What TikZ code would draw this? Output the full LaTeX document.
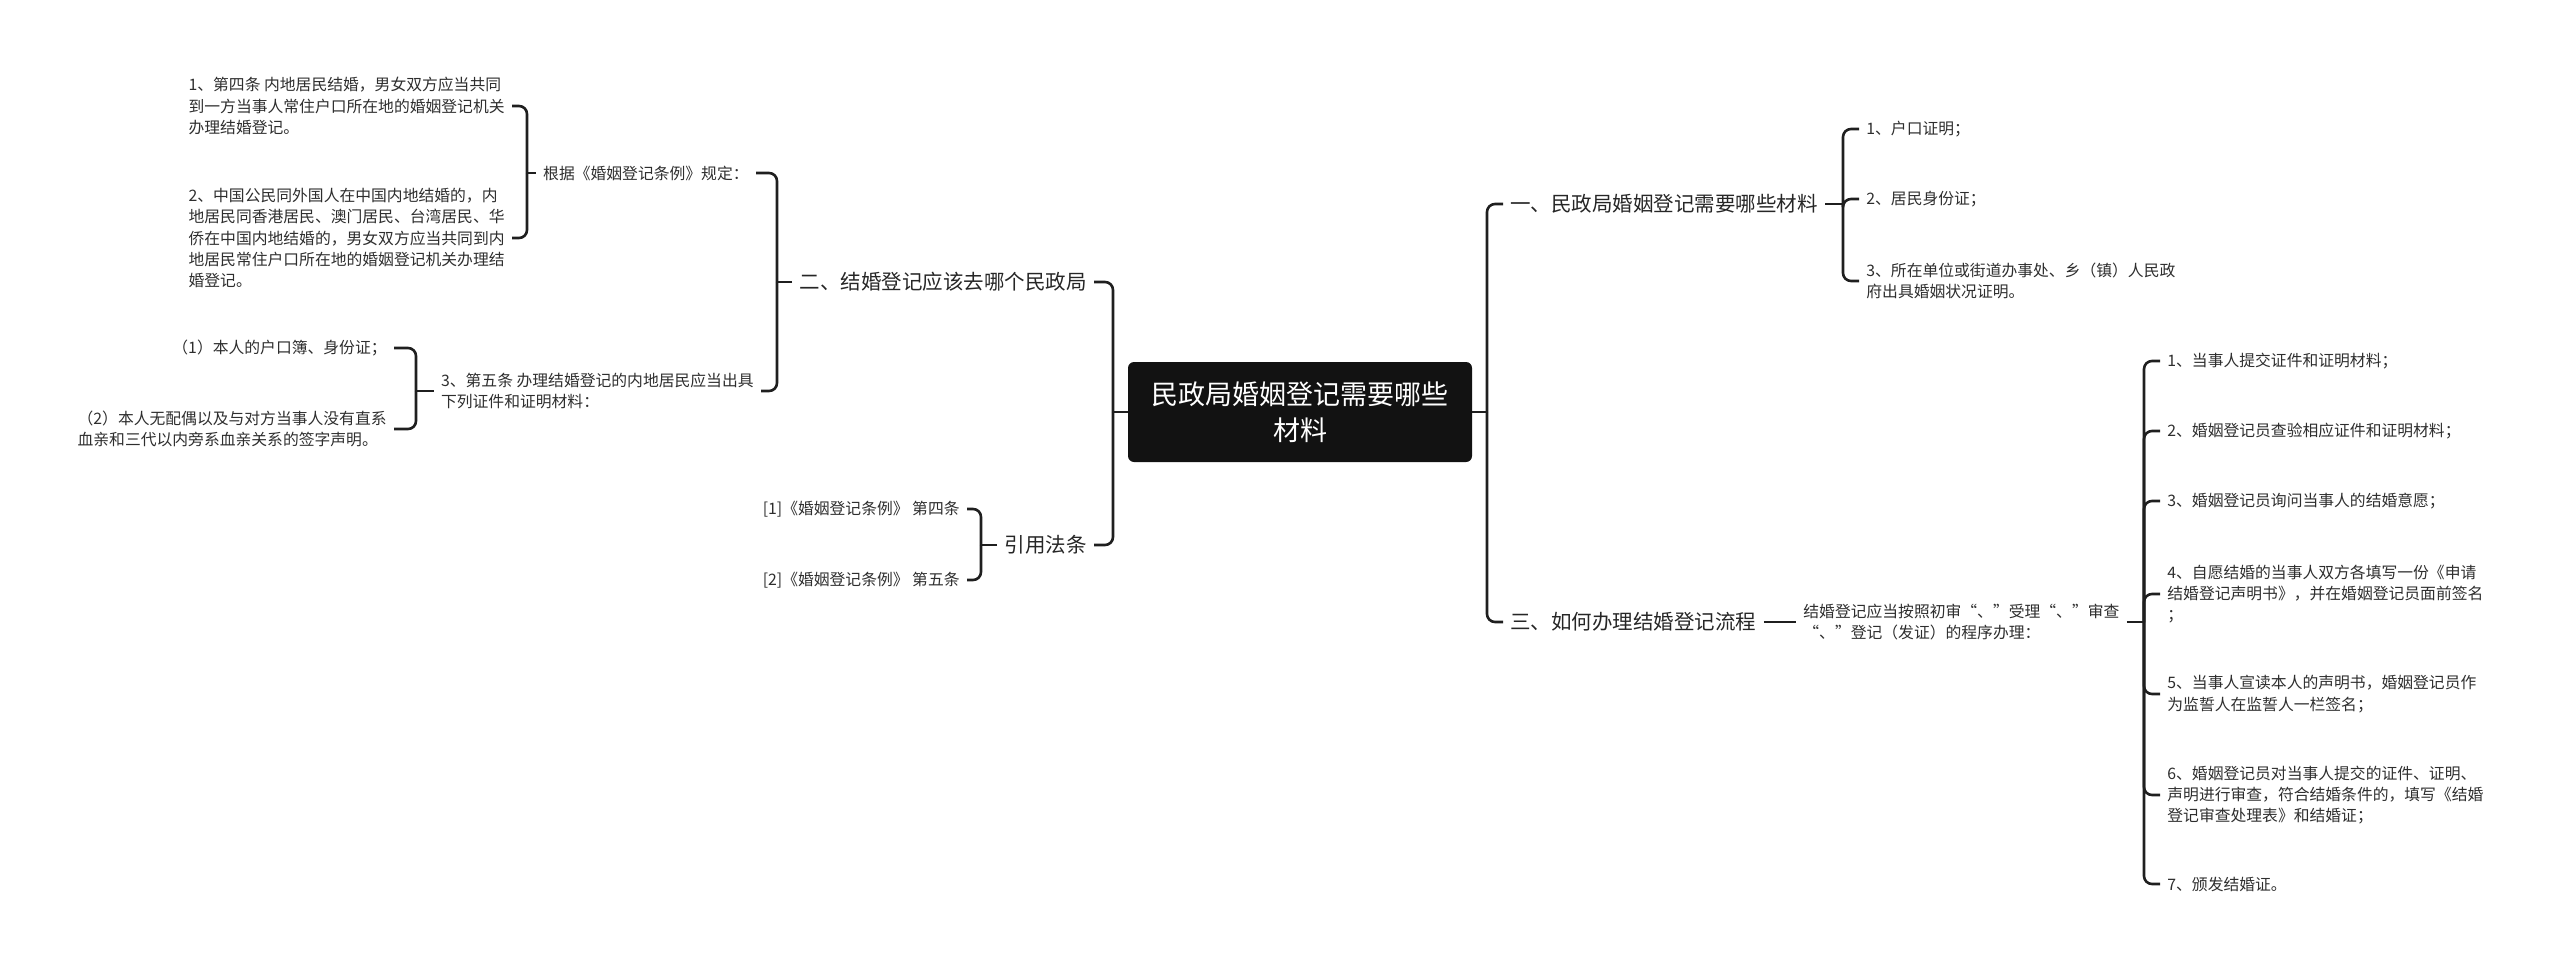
\documentclass[tikz,border=0pt]{standalone}
\usepackage{fontspec}
\setmainfont{Noto Sans CJK SC}

\tikzset{
  link/.style={line width=1.3pt, draw=black!88, rounded corners=4pt},
  leaf/.style={font=\fontsize{7.9}{10.6}\selectfont, text=black!82, inner xsep=3.5pt, inner ysep=0pt, align=left},
  sect/.style={font=\fontsize{10.25}{12}\selectfont, text=black!85, inner xsep=3.5pt, inner ysep=0pt},
  rootbox/.style={fill=black!93, text=white, rounded corners=3pt, minimum width=172pt, minimum height=50pt, align=center, font=\fontsize{13.5}{18}\selectfont}
}

\begin{document}
\begin{tikzpicture}[x=0.5pt, y=-0.5pt]
\useasboundingbox (0,0) rectangle (2560,969);

\node[rootbox] (root) at (1300,412) {民政局婚姻登记需要哪些\\材料};

% right half
\node[sect, anchor=west] (r1) at (1503,204) {一、民政局婚姻登记需要哪些材料};
\node[sect, anchor=west] (r3) at (1503,622) {三、如何办理结婚登记流程};

\node[leaf, anchor=west] (r1a) at (1859,129) {1、户口证明；};
\node[leaf, anchor=west] (r1b) at (1859,199) {2、居民身份证；};
\node[leaf, anchor=west] (r1c) at (1859,281) {3、所在单位或街道办事处、乡（镇）人民政\\府出具婚姻状况证明。};

\node[leaf, anchor=west] (r3m) at (1796,622) {结婚登记应当按照初审“、”受理“、”审查\\“、”登记（发证）的程序办理：};

\node[leaf, anchor=west] (r3a) at (2160,361) {1、当事人提交证件和证明材料；};
\node[leaf, anchor=west] (r3b) at (2160,431) {2、婚姻登记员查验相应证件和证明材料；};
\node[leaf, anchor=west] (r3c) at (2160,501) {3、婚姻登记员询问当事人的结婚意愿；};
\node[leaf, anchor=west] (r3d) at (2160,594) {4、自愿结婚的当事人双方各填写一份《申请\\结婚登记声明书》，并在婚姻登记员面前签名\\；};
\node[leaf, anchor=west] (r3e) at (2160,694) {5、当事人宣读本人的声明书，婚姻登记员作\\为监誓人在监誓人一栏签名；};
\node[leaf, anchor=west] (r3f) at (2160,795) {6、婚姻登记员对当事人提交的证件、证明、\\声明进行审查，符合结婚条件的，填写《结婚\\登记审查处理表》和结婚证；};
\node[leaf, anchor=west] (r3g) at (2160,884) {7、颁发结婚证。};

% left half
\node[sect, anchor=east] (l2) at (1094,282) {二、结婚登记应该去哪个民政局};
\node[sect, anchor=east] (l4) at (1094,545) {引用法条};

\node[leaf, anchor=east] (l2a) at (756,173) {根据《婚姻登记条例》规定：};
\node[leaf, anchor=east] (l2b) at (761,391) {3、第五条 办理结婚登记的内地居民应当出具\\下列证件和证明材料：};

\node[leaf, anchor=east] (l2a1) at (512,106) {1、第四条 内地居民结婚，男女双方应当共同\\到一方当事人常住户口所在地的婚姻登记机关\\办理结婚登记。};
\node[leaf, anchor=east] (l2a2) at (512,238) {2、中国公民同外国人在中国内地结婚的，内\\地居民同香港居民、澳门居民、台湾居民、华\\侨在中国内地结婚的，男女双方应当共同到内\\地居民常住户口所在地的婚姻登记机关办理结\\婚登记。};

\node[leaf, anchor=east] (l2b1) at (394,348) {（1）本人的户口簿、身份证；};
\node[leaf, anchor=east] (l2b2) at (394,429) {（2）本人无配偶以及与对方当事人没有直系\\血亲和三代以内旁系血亲关系的签字声明。};

\node[leaf, anchor=east] (l4a) at (967,509) {[1]《婚姻登记条例》 第四条};
\node[leaf, anchor=east] (l4b) at (967,580) {[2]《婚姻登记条例》 第五条};

% junctions of the brackets
\coordinate (rj) at (1487,412);
\coordinate (r1j) at (1843,204);
\coordinate (r3j) at (2144,622);
\coordinate (lj) at (1113,412);
\coordinate (l2j) at (777,282);
\coordinate (l2aj) at (527,173);
\coordinate (l2bj) at (416,391);
\coordinate (l4j) at (981,545);

\draw[link] (root.east) -- (rj);
\foreach \n in {r1,r3} \draw[link] (rj) |- (\n.west);
\draw[link] (r1.east) -- (r1j);
\foreach \n in {r1a,r1b,r1c} \draw[link] (r1j) |- (\n.west);
\draw[link] (r3.east) -- (r3m.west);
\draw[link] (r3m.east) -- (r3j);
\foreach \n in {r3a,r3b,r3c,r3d,r3e,r3f,r3g} \draw[link] (r3j) |- (\n.west);

\draw[link] (root.west) -- (lj);
\foreach \n in {l2,l4} \draw[link] (lj) |- (\n.east);
\draw[link] (l2.west) -- (l2j);
\foreach \n in {l2a,l2b} \draw[link] (l2j) |- (\n.east);
\draw[link] (l2a.west) -- (l2aj);
\foreach \n in {l2a1,l2a2} \draw[link] (l2aj) |- (\n.east);
\draw[link] (l2b.west) -- (l2bj);
\foreach \n in {l2b1,l2b2} \draw[link] (l2bj) |- (\n.east);
\draw[link] (l4.west) -- (l4j);
\foreach \n in {l4a,l4b} \draw[link] (l4j) |- (\n.east);
\end{tikzpicture}
\end{document}
